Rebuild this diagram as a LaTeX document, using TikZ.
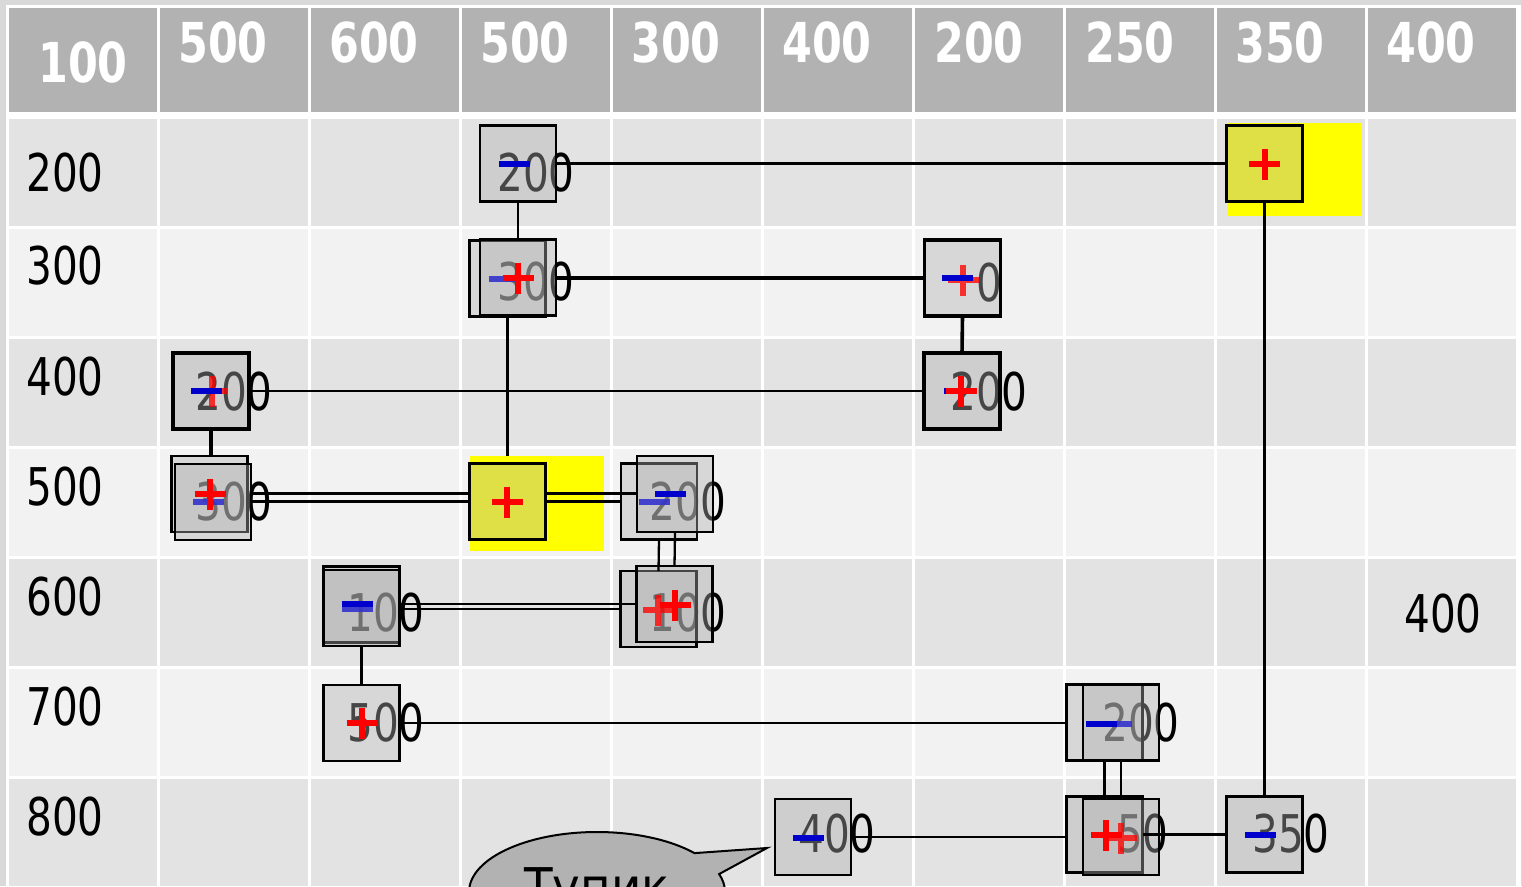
\documentclass[tikz,border=0pt]{standalone}
\usepackage{fontspec}
\newfontfamily\nf{DejaVu Sans}[FakeStretch=0.78]
\newfontfamily\bubf{DejaVu Sans}[FakeStretch=0.9]
\usetikzlibrary{shapes.callouts}
\definecolor{outerg}{HTML}{D9D9D9}
\definecolor{hdrg}{HTML}{B2B2B2}
\definecolor{rowd}{HTML}{E3E3E3}
\definecolor{rowl}{HTML}{F2F2F2}
\definecolor{boxg}{HTML}{AFAFAF}
\definecolor{yel}{HTML}{FFFF00}
\definecolor{mblue}{HTML}{0000CC}
\definecolor{lblue}{HTML}{3333CC}
\definecolor{mred}{HTML}{FF0000}
\begin{document}
\begin{tikzpicture}[x=1pt,y=-1pt,
  hd/.style={text=white,font=\nf\bfseries\fontsize{55}{55}\selectfont,inner sep=0pt,anchor=base},
  lab/.style={font=\nf\fontsize{52}{52}\selectfont,inner sep=0pt,anchor=base},
  cbox/.style={draw=black,line width=2.2pt,fill=boxg,fill opacity=0.4,minimum width=76pt,minimum height=76pt,inner sep=0pt,outer sep=0pt},
  thickbox/.style={cbox,line width=3.4pt},
  hlbox/.style={fill=yel,inner sep=0pt,outer sep=0pt},
  conn/.style={line width=2.3pt},
  thickconn/.style={line width=3.6pt},
  plusr/.pic={\draw[line width=6pt,mred] (-15.5,0)--(15.5,0) (0,-15.5)--(0,15.5);},
  plusl/.pic={\draw[line width=6pt,mred,draw opacity=0.78] (-15.5,0)--(15.5,0) (0,-15.5)--(0,15.5);},
  minusb/.pic={\draw[line width=5.5pt,mblue] (-15.5,0)--(15.5,0);},
  minusl/.pic={\draw[line width=5.5pt,lblue,draw opacity=0.9] (-15.5,0)--(15.5,0);}
]
\useasboundingbox (0,0) rectangle (1522,886);
\clip (0,0) rectangle (1522,886);
% background and grid
\fill[outerg] (0,0) rectangle (1522,886);
\fill[white] (6,5) rectangle (1521,890);
\foreach \i in {0,...,9}{
  \fill[hdrg] ({7.5+151*\i+1.2},7.5) rectangle ({7.5+151*(\i+1)-1.2},112);
}
\foreach \j/\c in {0/rowd,1/rowl,2/rowd,3/rowl,4/rowd,5/rowl,6/rowd}{
  \foreach \i in {0,...,9}{
    \fill[\c] ({7.5+151*\i+1.2},{117+110*\j+1.5}) rectangle ({7.5+151*(\i+1)-1.2},{117+110*(\j+1)-1.5});
  }
}
% header
\node[hd] (hd0) at (83,82) {100};
\node[hd] (hd1) at (223,62) {500};
\node[hd] (hd2) at (374,62) {600};
\node[hd] (hd3) at (525,62) {500};
\node[hd] (hd4) at (676,62) {300};
\node[hd] (hd5) at (827,62) {400};
\node[hd] (hd6) at (979,62) {200};
\node[hd] (hd7) at (1130,62) {250};
\node[hd] (hd8) at (1280,62) {350};
\node[hd] (hd9) at (1431,62) {400};
% row labels
\node[lab] (r0) at (65,191) {200};
\node[lab] (r1) at (65,284) {300};
\node[lab] (r2) at (65,395) {400};
\node[lab] (r3) at (65,505) {500};
\node[lab] (r4) at (65,615) {600};
\node[lab] (r5) at (65,725) {700};
\node[lab] (r6) at (65,835) {800};
% yellow highlights
\node[hlbox,minimum width=134pt,minimum height=93pt] (hlA) at (1294,169.5) {};
\node[hlbox,minimum width=134pt,minimum height=95pt] (hl5) at (537,503.5) {};
% numbers (covered by the translucent boxes)
\node[lab] (n1) at (536,191) {200};
\node[lab] (n2) at (536,300) {300};
\node[lab] (n3) at (989,301) {\phantom{0}0\phantom{0}};
\node[lab] (n4) at (234,410) {200};
\node[lab] (n5) at (989,410) {200};
\node[lab] (n6) at (234,520) {300};
\node[lab] (n7) at (688,520) {200};
\node[lab] (n8) at (386,631) {100};
\node[lab] (n9) at (688,631) {100};
\node[lab] (n10) at (1443,632) {400};
\node[lab] (n11) at (386,741) {500};
\node[lab] (n12) at (1141,741) {200};
\node[lab] (n13) at (837,852) {400};
\node[lab] (n14) at (1130,852) {\phantom{0}50};
\node[lab] (n15) at (1291,852) {350};
% boxes
\node[cbox] (bA) at (518,163.5) {};
\node[cbox,line width=2.6pt] (yA) at (1264.5,163.5) {};
\node[cbox] (b3a) at (507.5,278.5) {};
\node[cbox] (b3b) at (518,277.5) {};
\node[thickbox] (c6) at (962.5,278) {};
\node[thickbox] (d1) at (211,391) {};
\node[thickbox] (d6) at (962,391) {};
\node[cbox] (e1a) at (209.5,494) {};
\node[cbox] (e1b) at (213,502) {};
\node[cbox,line width=2.6pt] (y5) at (507.5,501.5) {};
\node[cbox] (e4a) at (659,501.5) {};
\node[cbox] (e4b) at (675,494) {};
\node[cbox] (f2a) at (361.5,604.5) {};
\node[cbox] (f2b) at (361.5,608) {};
\node[cbox] (f4a) at (658.5,609) {};
\node[cbox] (f4b) at (674.5,604) {};
\node[cbox] (g2) at (361.5,723) {};
\node[cbox] (g7a) at (1104.5,722.5) {};
\node[cbox] (g7b) at (1121,722.5) {};
\node[cbox] (k5) at (813,837) {};
\node[cbox] (k7a) at (1104.5,834.5) {};
\node[cbox] (k7b) at (1121,837) {};
\node[cbox] (k8) at (1264.5,834.5) {};
% connectors
\draw[conn] (bA.east) -- (yA.west);
\draw[conn] (bA.south) -- (b3b.north);
\draw[thickconn] (b3b.east |- 0,278) -- (c6.west |- 0,278);
\draw[conn] (b3a.south) -- (b3a.south |- hl5.north);
\draw[thickconn] (c6.south) -- (d6.north);
\draw[conn] (d1.east) -- (d6.west);
\draw[thickconn] (d1.south) -- (d1.south |- e1a.north);
\draw[conn] (e1b.east |- 0,493.5) -- (y5.west |- 0,493.5);
\draw[conn] (e1b.east |- 0,501.5) -- (y5.west |- 0,501.5);
\draw[conn] (y5.east |- 0,493.5) -- (e4b.west |- 0,493.5);
\draw[conn] (y5.east |- 0,501.5) -- (e4a.west |- 0,501.5);
\draw[conn] (e4a.south) -- (f4a.north);
\draw[conn] (e4b.south) -- (f4b.north);
\draw[conn] (f2a.east |- 0,604) -- (f4b.west |- 0,604);
\draw[conn] (f2a.east |- 0,609) -- (f4a.west |- 0,609);
\draw[conn] (f2b.south) -- (g2.north);
\draw[conn] (g2.east) -- (g2.east -| g7a.west);
\draw[conn] (g7a.south) -- (k7a.north);
\draw[conn] (g7b.south) -- (g7b.south |- k7b.north);
\draw[conn] (k5.east) -- (k5.east -| k7a.west);
\draw[conn] (k7a.east |- k8.west) -- (k8.west);
\draw[conn] (yA.south) -- (k8.north);
% signs
\pic at (514,164) {minusb};
\pic at (1264.5,164) {plusr};
\pic at (504,279) {minusl};
\pic at (518,278) {plusr};
\pic at (963,280) {plusl};
\pic at (957.5,278) {minusb};
\pic at (212,391) {plusl};
\pic at (206,391) {minusb};
\pic at (959,391) {minusb};
\pic at (961,391) {plusr};
\pic at (208,502) {minusl};
\pic at (210,494) {plusr};
\pic at (507,502) {plusr};
\pic at (654,502) {minusl};
\pic at (670.5,494) {minusb};
\pic at (357,609.5) {minusl};
\pic at (357,604) {minusb};
\pic at (658,610) {plusl};
\pic at (675,605) {plusr};
\pic at (362,723) {plusr};
\pic at (1116,724) {minusl};
\pic at (1101.5,724) {minusb};
\pic at (808.5,838) {minusb};
\pic at (1121,838) {plusl};
\pic at (1106,835) {plusr};
\pic at (1260.5,835) {minusb};
% speech bubble
\node[ellipse callout,draw=black,line width=2pt,fill=hdrg,minimum width=256pt,minimum height=120pt,
  callout absolute pointer={(767,848)},callout pointer arc=23,inner sep=0pt,
  font=\bubf\fontsize{52}{52}\selectfont] (bub) at (597,892) {Тупик};
\end{tikzpicture}
\end{document}
